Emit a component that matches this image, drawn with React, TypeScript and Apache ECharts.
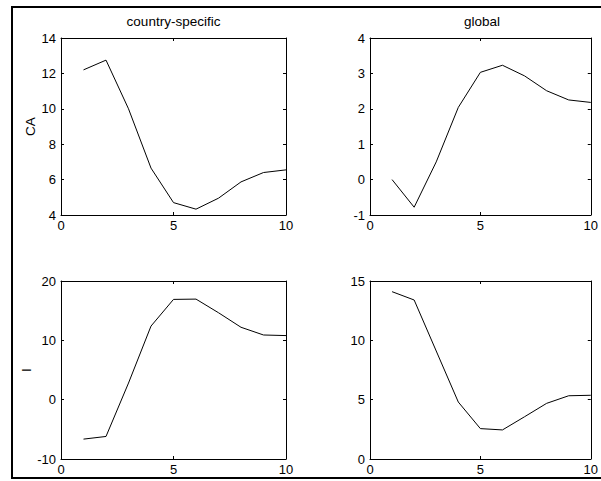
import React, { useEffect, useRef } from "react";
import * as echarts from "echarts";

const periods = [1, 2, 3, 4, 5, 6, 7, 8, 9, 10];
const caCountry = [12.2, 12.75, 10.0, 6.65, 4.7, 4.33, 4.95, 5.87, 6.4, 6.55];
const caGlobal = [0.0, -0.78, 0.5, 2.04, 3.03, 3.23, 2.93, 2.51, 2.25, 2.18];
const iCountry = [-6.65, -6.2, 2.8, 12.4, 16.9, 16.95, 14.65, 12.2, 10.9, 10.8];
const iGlobal = [14.1, 13.4, 9.1, 4.8, 2.56, 2.45, 3.56, 4.69, 5.33, 5.37];

const panelTitles = ["country-specific", "global"];
const rowNames = ["CA", "I"];

const FONT = "Liberation Sans, Arial, Helvetica, sans-serif";

type Panel = {
  grid: { left: number; top: number; width: number; height: number };
  values: number[];
  yMin: number;
  yMax: number;
  yInt: number;
  yName?: string;
};

const panels: Panel[] = [
  { grid: { left: 61, top: 38, width: 225, height: 177 }, values: caCountry, yMin: 4, yMax: 14, yInt: 2, yName: rowNames[0] },
  { grid: { left: 370, top: 38, width: 224, height: 177 }, values: caGlobal, yMin: -1, yMax: 4, yInt: 1 },
  { grid: { left: 61, top: 281, width: 225, height: 178 }, values: iCountry, yMin: -10, yMax: 20, yInt: 10, yName: rowNames[1] },
  { grid: { left: 370, top: 281, width: 224, height: 178 }, values: iGlobal, yMin: 0, yMax: 15, yInt: 5 },
];

export default function App() {
  const ref = useRef<HTMLDivElement>(null);
  useEffect(() => {
    if (!ref.current) return;
    const chart = echarts.init(ref.current, null, { renderer: "svg" });
    const axisLine = { show: true, onZero: false, lineStyle: { color: "#000", width: 1 } };
    const tick = { show: true, inside: true, length: 3, lineStyle: { color: "#000", width: 1 } };
    const label = { color: "#000", fontSize: 13, fontFamily: FONT };
    const grids: any[] = [];
    const xAxes: any[] = [];
    const yAxes: any[] = [];
    const series: any[] = [];
    panels.forEach((p, i) => {
      grids.push({ ...p.grid, containLabel: false, show: false });
      xAxes.push({
        gridIndex: i, type: "value", position: "bottom", min: 0, max: 10, interval: 5,
        axisLine, axisTick: tick, splitLine: { show: false },
        axisLabel: { ...label, margin: 4, showMinLabel: true, showMaxLabel: true },
      });
      xAxes.push({
        gridIndex: i, type: "value", position: "top", min: 0, max: 10, interval: 5,
        axisLine, axisTick: tick, splitLine: { show: false }, axisLabel: { show: false },
      });
      yAxes.push({
        gridIndex: i, type: "value", position: "left", min: p.yMin, max: p.yMax, interval: p.yInt,
        axisLine, axisTick: tick, splitLine: { show: false },
        axisLabel: { ...label, margin: 5, showMinLabel: true, showMaxLabel: true },
        name: p.yName || "", nameLocation: "middle", nameGap: 22,
        nameTextStyle: { color: "#000", fontSize: 13.5, fontFamily: FONT },
      });
      yAxes.push({
        gridIndex: i, type: "value", position: "right", min: p.yMin, max: p.yMax, interval: p.yInt,
        axisLine, axisTick: tick, splitLine: { show: false }, axisLabel: { show: false },
      });
      series.push({
        type: "line",
        xAxisIndex: i * 2,
        yAxisIndex: i * 2,
        data: periods.map((x, k) => [x, p.values[k]]),
        showSymbol: false,
        symbol: "none",
        lineStyle: { color: "#000", width: 1 },
        silent: true,
      });
    });
    chart.setOption({
      animation: false,
      backgroundColor: "#fff",
      title: [
        {
          text: panelTitles[0], left: 173.5, top: 14, textAlign: "center", padding: 0,
          textStyle: { color: "#000", fontSize: 13.5, fontWeight: "normal", fontFamily: FONT },
        },
        {
          text: panelTitles[1], left: 482, top: 14, textAlign: "center", padding: 0,
          textStyle: { color: "#000", fontSize: 13.5, fontWeight: "normal", fontFamily: FONT },
        },
      ],
      graphic: [
        {
          type: "polyline", silent: true, z: 100,
          shape: { points: [[601, 7], [12, 7], [12, 478], [601, 478]] },
          style: { fill: "none", stroke: "#000", lineWidth: 2 },
        },
      ],
      grid: grids,
      xAxis: xAxes,
      yAxis: yAxes,
      series,
    });
    return () => chart.dispose();
  }, []);
  return (
    <div
      ref={ref}
      style={{ position: "absolute", left: 0, top: 0, width: 601, height: 481, overflow: "hidden", background: "#fff" }}
    />
  );
}
